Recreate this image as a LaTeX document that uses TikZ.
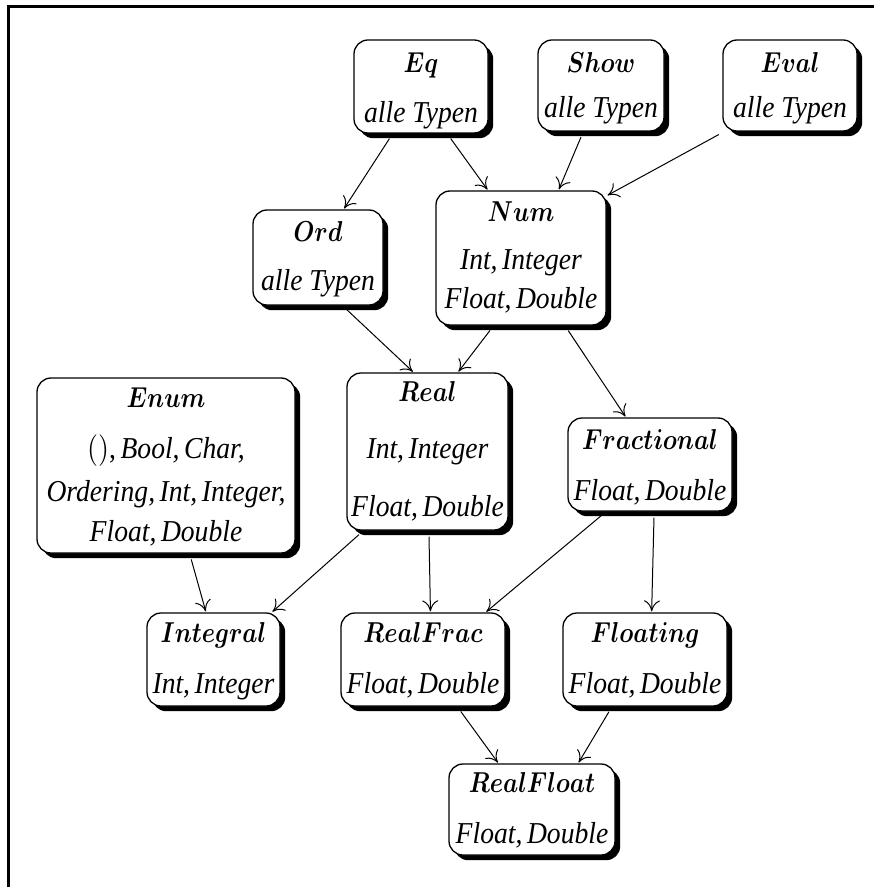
\documentclass[tikz,border=0pt]{standalone}
\usepackage{bm}
\usepackage{fontspec}
\setmainfont{Liberation Serif}
\usetikzlibrary{shadows,arrows.meta}
\newcommand{\clsname}[1]{$\bm{#1}$}
\begin{document}
\begin{tikzpicture}[x=0.5pt,y=-0.5pt,
  cls/.style={draw, line width=0.65pt, rounded corners=7pt, fill=white,
    drop shadow={shadow xshift=2.6pt, shadow yshift=-2.6pt, fill=black, opacity=1},
    inner sep=0pt},
  ttl/.style={anchor=base, inner sep=0pt, yscale=1.2, font=\fontsize{13}{15}\selectfont},
  txt/.style={anchor=base, inner sep=0pt, yscale=1.1, font=\fontsize{13.8}{16}\selectfont\itshape},
  isa/.style={-{To[length=5.5pt,width=8pt]}, line width=0.5pt, shorten <=3pt, shorten >=0.5pt}]

\useasboundingbox (0,0) rectangle (874,887);
\coordinate (frameR) at (874,7);
\coordinate (frameC) at (8,7);
\coordinate (frameB) at (8,887);
\draw[line width=1.5pt] (frameR) -- (frameC) -- (frameB);

% class boxes
\node[cls, minimum width=67pt, minimum height=46.5pt] (eq)    at (421,86.5) {};
\node[cls, minimum width=63pt, minimum height=45.5pt] (show)  at (601,85.5) {};
\node[cls, minimum width=67pt, minimum height=45.5pt] (eval)  at (790,85.5) {};
\node[cls, minimum width=65pt, minimum height=47.5pt] (ord)   at (318,257.5) {};
\node[cls, minimum width=85pt, minimum height=67pt]   (num)   at (521,258) {};
\node[cls, minimum width=129pt, minimum height=87.5pt] (enum) at (166,465.5) {};
\node[cls, minimum width=80.5pt, minimum height=78.5pt] (real) at (427.5,451.5) {};
\node[cls, minimum width=82pt, minimum height=46.5pt] (frac)  at (650,464.5) {};
\node[cls, minimum width=66.5pt, minimum height=46.5pt] (integral) at (213.5,659.5) {};
\node[cls, minimum width=82pt, minimum height=46.5pt] (realfrac) at (423,659.5) {};
\node[cls, minimum width=82pt, minimum height=46.5pt] (floating) at (645,659.5) {};
\node[cls, minimum width=83pt, minimum height=45.5pt] (realfloat) at (532,809.5) {};

% class names and instances
\node[ttl] (eqT) at (421,73) {\clsname{Eq}};
\node[txt] (eqB) at (421,123) {alle Typen};
\node[ttl] (showT) at (601,73) {\clsname{Show}};
\node[txt] (showB) at (601,118) {alle Typen};
\node[ttl] (evalT) at (790,73) {\clsname{Eval}};
\node[txt] (evalB) at (790,118) {alle Typen};
\node[ttl] (ordT) at (318,242) {\clsname{Ord}};
\node[txt] (ordB) at (318,291) {alle Typen};
\node[ttl] (numT) at (521,222) {\clsname{Num}};
\node[txt] (numB1) at (521,270) {Int,\,Integer};
\node[txt] (numB2) at (521,308) {Float,\,Double};
\node[ttl] (enumT) at (166,407) {\clsname{Enum}};
\node[txt] (enumB1) at (166,458) {\upshape$()$,\,\itshape Bool,\,Char,};
\node[txt] (enumB2) at (166,501) {Ordering,\,Int,\,Integer,};
\node[txt] (enumB3) at (166,541) {Float,\,Double};
\node[ttl] (realT) at (427.5,401) {\clsname{Real}};
\node[txt] (realB1) at (427.5,458) {Int,\,Integer};
\node[txt] (realB2) at (427.5,516) {Float,\,Double};
\node[ttl] (fracT) at (650,449) {\clsname{Fractional}};
\node[txt] (fracB) at (650,500) {Float,\,Double};
\node[ttl] (integralT) at (213.5,642) {\clsname{Integral}};
\node[txt] (integralB) at (213.5,693) {Int,\,Integer};
\node[ttl] (realfracT) at (423,642) {\clsname{RealFrac}};
\node[txt] (realfracB) at (423,693) {Float,\,Double};
\node[ttl] (floatingT) at (645,642) {\clsname{Floating}};
\node[txt] (floatingB) at (645,693) {Float,\,Double};
\node[ttl] (realfloatT) at (532,792) {\clsname{RealFloat}};
\node[txt] (realfloatB) at (532,843) {Float,\,Double};

% subclass relations
\draw[isa] (eq.-121.8) -- (ord.62.8);
\draw[isa] (eq.-61.2) -- (num.116.6);
\draw[isa] (show.-111.1) -- (num.61.4);
\draw[isa] (eval.-145.1) -- (num.36.3);
\draw[isa] (ord.-63.6) -- (real.100.1);
\draw[isa] (num.-112.7) -- (real.69.5);
\draw[isa] (num.-57.6) -- (frac.117.8);
\draw[isa] (enum.-75.7) -- (integral.99.9);
\draw[isa] (real.-129.1) -- (integral.39.1);
\draw[isa] (real.-89.7) -- (realfrac.81.6);
\draw[isa] (frac.-133.6) -- (realfrac.37.5);
\draw[isa] (frac.-85.6) -- (floating.82.8);
\draw[isa] (realfrac.-54.8) -- (realfloat.126.4);
\draw[isa] (floating.-125.9) -- (realfloat.45.9);
\end{tikzpicture}
\end{document}
